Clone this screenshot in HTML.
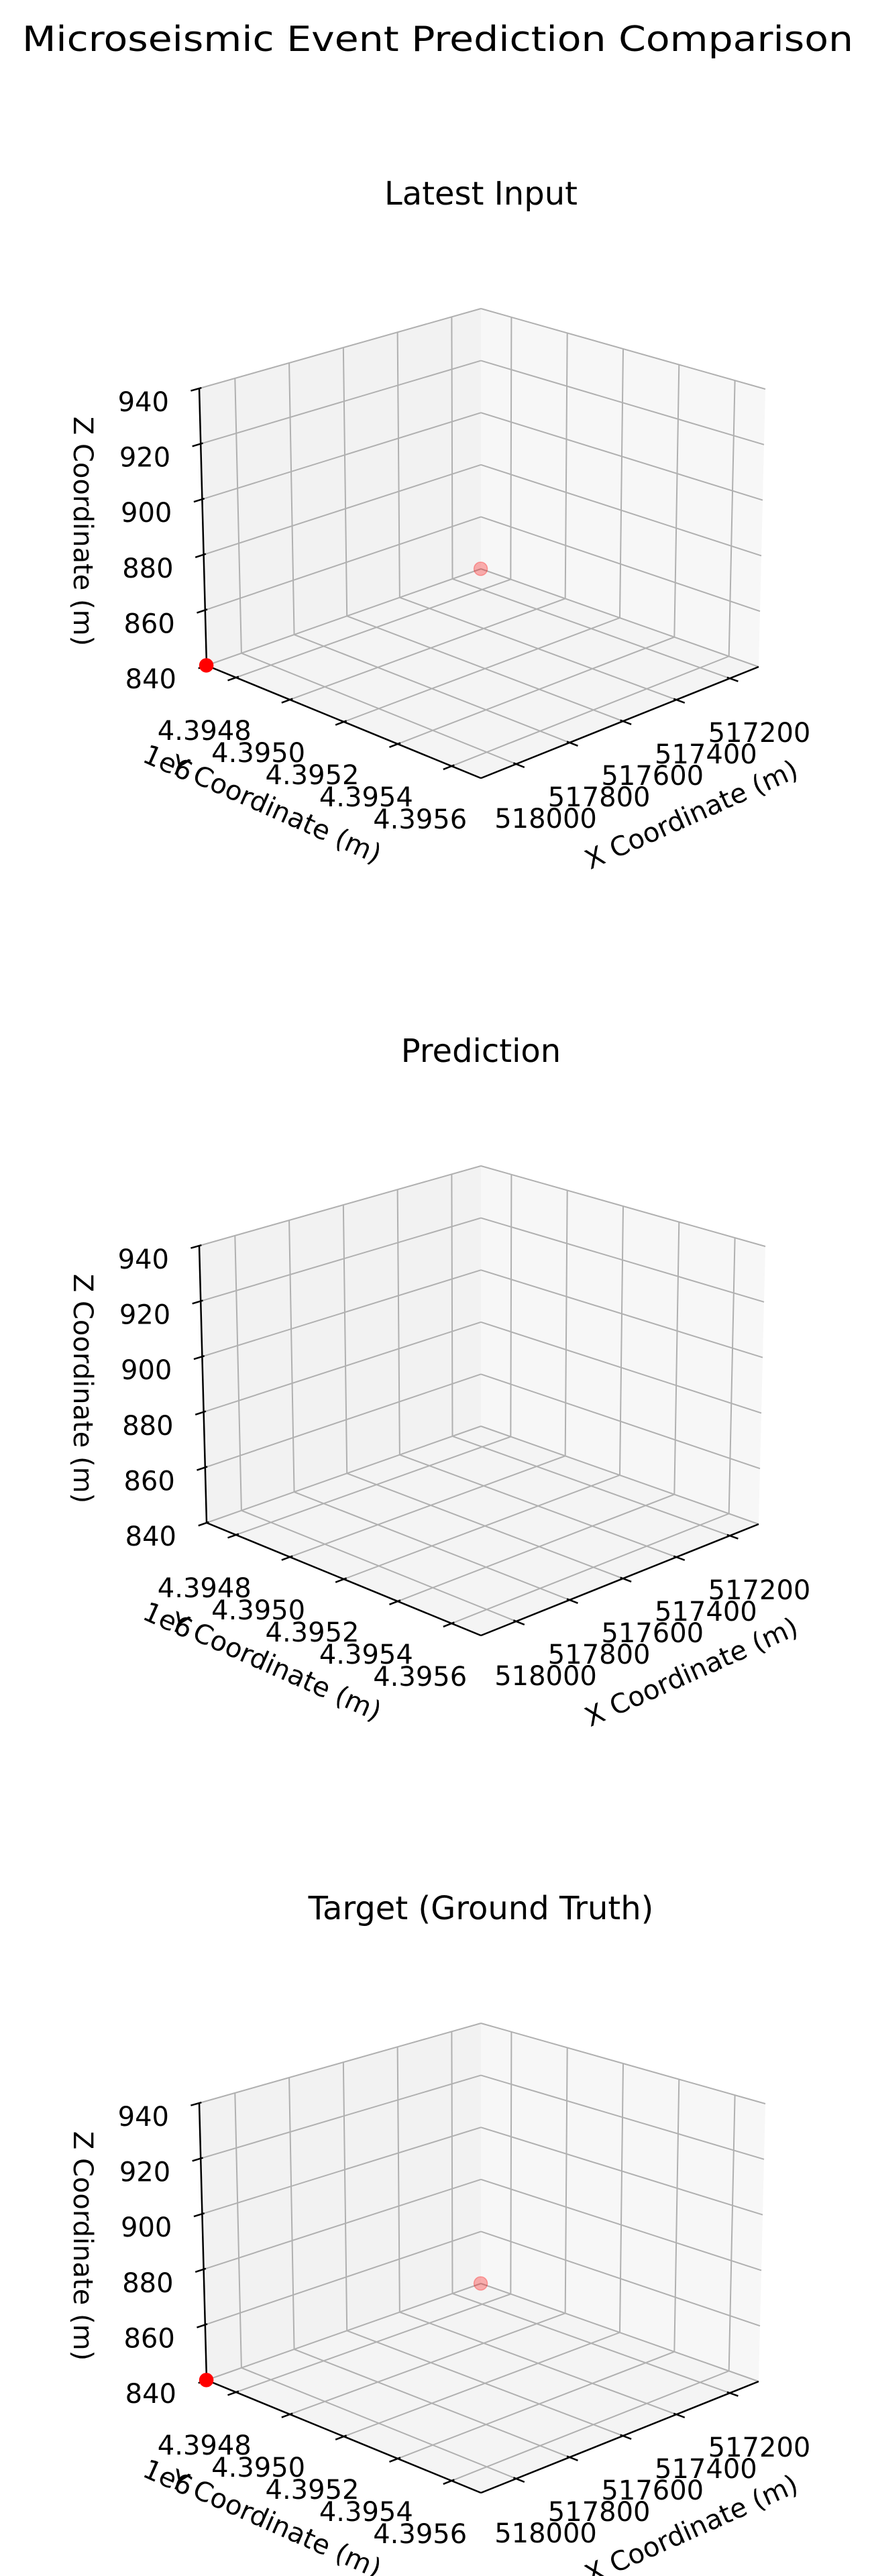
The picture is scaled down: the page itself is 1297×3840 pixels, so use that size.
<!DOCTYPE html>
<html><head><meta charset="utf-8"><style>
html,body{margin:0;padding:0;background:#fff;}
svg{display:block;font-family:"DejaVu Sans","Liberation Sans",sans-serif;}
</style></head><body>
<svg id="fig" width="1297" height="3840" viewBox="0 0 1297 3840">
<text x="33" y="76" font-size="52" textLength="1239" lengthAdjust="spacingAndGlyphs">Microseismic Event Prediction Comparison</text>
</svg>
<script>
const xTicks=[517200,517400,517600,517800,518000];
const yTicks=[4.3948,4.3950,4.3952,4.3954,4.3956];
const yTickLabels=["4.3948","4.3950","4.3952","4.3954","4.3956"];
const zTicks=[840,860,880,900,920,940];
const panelTitles=["Latest Input","Prediction","Target (Ground Truth)"];
const inputX=[518132,517092];
const inputY=[4.39469,4.39469];
const inputZ=[840,840];
const predX=[];
const predY=[];
const predZ=[];
const targetX=[518132,517092];
const targetY=[4.39469,4.39469];
const targetZ=[840,840];

const NS="http://www.w3.org/2000/svg";
const svg=document.getElementById('fig');
const X0=518132,X1=517092,Y0=4.394691,Y1=4.395709,Z0=840,Z1=940;
function uOf(x){return (x-X0)/(X1-X0);}
function fOf(y){return (y-Y0)/(Y1-Y0);}
function tOf(z){return (z-Z0)/(Z1-Z0);}
const Lb=[308,992],Bb=[717,848],Rb=[1131,994],Fb=[717,1160];
const Lt=[297,579],Bt=[717,460],Rt=[1141,580],Ft=[717,720];
function bil(A,B,C,D,u,f){ // A=L(u0,f0) B=B(u1,f0) C=R(u1,f1) D=F(u0,f1)
  const x=(1-u)*(1-f)*A[0]+u*(1-f)*B[0]+u*f*C[0]+(1-u)*f*D[0];
  const y=(1-u)*(1-f)*A[1]+u*(1-f)*B[1]+u*f*C[1]+(1-u)*f*D[1];
  return [x,y];
}
function P(u,f,t,dy){
  const b=bil(Lb,Bb,Rb,Fb,u,f),tp=bil(Lt,Bt,Rt,Ft,u,f);
  return [b[0]+t*(tp[0]-b[0]), b[1]+t*(tp[1]-b[1])+dy];
}
function el(tag,attrs,parent){const e=document.createElementNS(NS,tag);for(const k in attrs)e.setAttribute(k,attrs[k]);(parent||svg).appendChild(e);return e;}
function line(a,b,col,w,g){return el('line',{x1:a[0],y1:a[1],x2:b[0],y2:b[1],stroke:col,'stroke-width':w},g);}
function txt(s,x,y,attrs,g){const e=el('text',Object.assign({x:x,y:y,'font-size':40,fill:'#000'},attrs),g);e.textContent=s;return e;}

function drawPanel(k,dy,xs,ys,zs){
  const g=el('g',{});
  
  
  const title=txt(panelTitles[k],717,305+dy,{'font-size':48,'text-anchor':'middle'},g);
  
  
  const poly=(pts,fill,name)=>{const p=el('polygon',{points:pts.map(q=>q.join(',')).join(' '),fill:fill,stroke:'none'},g);};
  poly([P(0,0,0,dy),P(1,0,0,dy),P(1,0,1,dy),P(0,0,1,dy)],'#f2f2f2','left-pane');
  poly([P(1,0,0,dy),P(1,1,0,dy),P(1,1,1,dy),P(1,0,1,dy)],'#f7f7f7','right-pane');
  poly([P(0,0,0,dy),P(1,0,0,dy),P(1,1,0,dy),P(0,1,0,dy)],'#f4f4f4','floor-pane');
  const gc='#b0b0b0',gw=2;
  xTicks.forEach(x=>{const u=uOf(x);
    let l=line(P(u,0,0,dy),P(u,1,0,dy),gc,gw,g);
    l=line(P(u,0,0,dy),P(u,0,1,dy),gc,gw,g);});
  yTicks.forEach(y=>{const f=fOf(y);
    let l=line(P(0,f,0,dy),P(1,f,0,dy),gc,gw,g);
    l=line(P(1,f,0,dy),P(1,f,1,dy),gc,gw,g);});
  zTicks.forEach(z=>{const t=tOf(z);
    let l=line(P(0,0,t,dy),P(1,0,t,dy),gc,gw,g);
    l=line(P(1,0,t,dy),P(1,1,t,dy),gc,gw,g);});
  // axis lines
  let a=line(P(0,0,0,dy),P(0,0,1,dy),'#000',2.5,g);
  a=line(P(0,0,0,dy),P(0,1,0,dy),'#000',2.5,g);
  a=line(P(0,1,0,dy),P(1,1,0,dy),'#000',2.5,g);
  // z ticks
  zTicks.forEach(z=>{const t=tOf(z);const p=P(0,0,t,dy),q=P(-0.03,0,t,dy),r=P(0.008,0,t,dy);
    const tk=line(q,r,'#000',2.5,g);
    const lb=txt(String(z),p[0]-45,p[1]+21,{'text-anchor':'end','dominant-baseline':'central'},g);
    });
  yTicks.forEach((y,i)=>{const f=fOf(y);const p=P(0,f,0,dy),q=P(-0.03,f,0,dy),r=P(0.01,f,0,dy);
    const tk=line(q,r,'#000',2.5,g);
    const lb=txt(yTickLabels[i],p[0]-47,p[1]+80,{'text-anchor':'middle','dominant-baseline':'central'},g);
    });
  xTicks.forEach(x=>{const u=uOf(x);const p=P(u,1,0,dy),q=P(u,1.03,0,dy),r=P(u,0.99,0,dy);
    const tk=line(q,r,'#000',2.5,g);
    const lb=txt(String(x),p[0]+44,p[1]+82,{'text-anchor':'middle','dominant-baseline':'central'},g);
    });
  // axis titles
  let t=txt('Z Coordinate (m)',123,792+dy,{'text-anchor':'middle','dominant-baseline':'central',transform:'rotate(90 123 '+(792+dy)+')'},g);
  
  t=txt('Y Coordinate (m)',411,1207+dy,{'text-anchor':'middle','dominant-baseline':'central',transform:'rotate(24 411 '+(1207+dy)+')'},g);
  
  t=txt('1e6',250,1138+dy,{'text-anchor':'middle','dominant-baseline':'central',transform:'rotate(24 250 '+(1138+dy)+')'},g);
  
  t=txt('X Coordinate (m)',1031,1215+dy,{'text-anchor':'middle','dominant-baseline':'central',transform:'rotate(-24 1031 '+(1215+dy)+')'},g);
  
  // points
  const depth=xs.map((x,i)=>uOf(x)+(1-fOf(ys[i])));
  const dmin=Math.min(...depth),dmax=Math.max(...depth);
  xs.forEach((x,i)=>{const p=P(uOf(x),fOf(ys[i]),tOf(zs[i]),dy);
    const al=dmax>dmin?1-0.7*(depth[i]-dmin)/(dmax-dmin):1;
    const c=el('circle',{cx:p[0],cy:p[1],r:10,fill:'red','fill-opacity':al,stroke:'red','stroke-opacity':al,'stroke-width':1.5},g);
    
    });
}
drawPanel(0,0,inputX,inputY,inputZ);
drawPanel(1,1278,predX,predY,predZ);
drawPanel(2,2556,targetX,targetY,targetZ);
</script>
</body></html>
